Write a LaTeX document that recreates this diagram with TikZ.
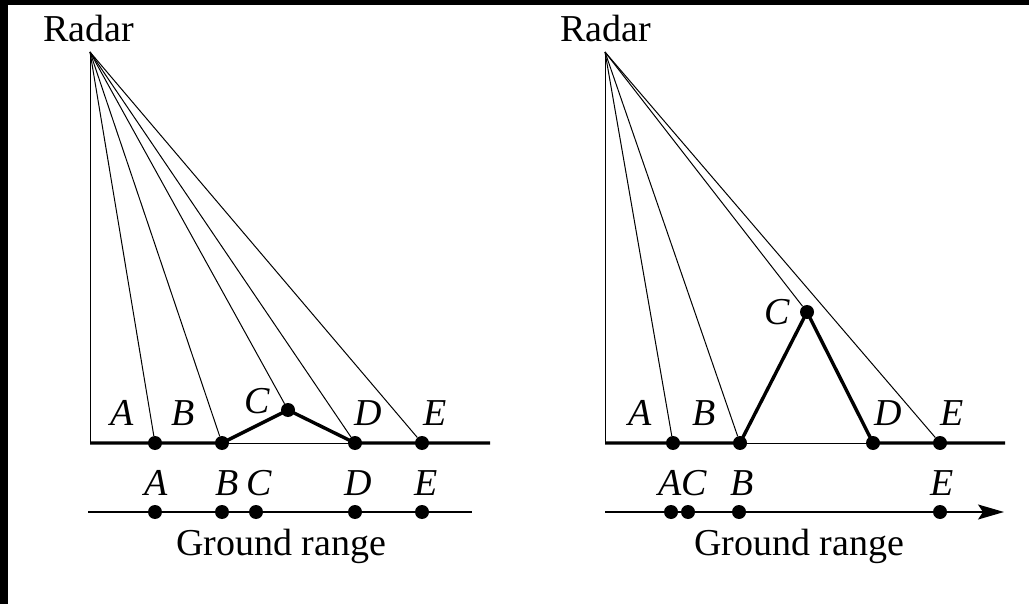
\documentclass[tikz,border=0pt]{standalone}
\usepackage{fontspec}
\setmainfont{Liberation Serif}
\newfontfamily\figfont{Liberation Serif}
\usetikzlibrary{arrows.meta,positioning}

\begin{document}
\begin{tikzpicture}[x=1pt,y=-1pt,
  dot/.style={circle,fill,inner sep=0pt,minimum size=14pt},
  ray/.style={line width=1pt},
  terrain/.style={line width=3.4pt},
  axis/.style={line width=1.6pt},
  lbl/.style={font=\figfont\fontsize{38}{40}\selectfont\itshape,anchor=base,inner sep=0pt},
  txt/.style={font=\figfont\fontsize{38}{40}\selectfont,anchor=base,inner sep=0pt}]
% frame
\fill[black] (0,0) rectangle (1029,604);
\fill[white] (8,5) rectangle (1029,604);

% left: low hill
\coordinate (r1) at (90,52);
\coordinate (o1) at (90,443);
\coordinate (g1) at (490,443);
\node[txt] (radar1) at (89,42) {Radar};
\node[dot] (a1) at (155,443) {};
\node[dot] (b1) at (222,443) {};
\node[dot] (c1) at (288,410) {};
\node[dot] (d1) at (355,443) {};
\node[dot] (e1) at (422,443) {};

\draw[ray] (r1) -- (o1);
\draw[ray] (r1) -- (a1);
\draw[ray] (r1) -- (b1);
\draw[ray] (r1) -- (c1);
\draw[ray] (r1) -- (d1);
\draw[ray] (r1) -- (e1);
\draw[ray] (b1) -- (d1);
\draw[terrain] (o1) -- (b1.center) -- (c1.center) -- (d1.center) -- (g1);

\node[lbl] (la1) at (122,425) {A};
\node[lbl] (lb1) at (183,425) {B};
\node[lbl] (lc1) at (257,413) {C};
\node[lbl] (ld1) at (368,425) {D};
\node[lbl] (le1) at (435,425) {E};

% left: ground range
\coordinate (s1) at (88,512);
\coordinate (t1) at (472,512);
\draw[axis] (s1) -- (t1);
\node[dot] (pa1) at (155,512) {};
\node[dot] (pb1) at (222,512) {};
\node[dot] (pc1) at (256,512) {};
\node[dot] (pd1) at (355,512) {};
\node[dot] (pe1) at (422,512) {};
\node[lbl] at (156,495) {A};
\node[lbl] at (227,495) {B};
\node[lbl] at (259,495) {C};
\node[lbl] at (358,495) {D};
\node[lbl] at (426,495) {E};
\node[txt] (gr1) at (281,555) {Ground range};

% right: high hill
\coordinate (r2) at (605,52);
\coordinate (o2) at (605,443);
\coordinate (g2) at (1005,443);
\node[txt] (radar2) at (606,42) {Radar};
\node[dot] (a2) at (673,443) {};
\node[dot] (b2) at (740,443) {};
\node[dot] (c2) at (807,312) {};
\node[dot] (d2) at (873,443) {};
\node[dot] (e2) at (940,443) {};

\draw[ray] (r2) -- (o2);
\draw[ray] (r2) -- (a2);
\draw[ray] (r2) -- (b2);
\draw[ray] (r2) -- (c2);
\draw[ray] (r2) -- (e2);
\draw[ray] (b2) -- (d2);
\draw[terrain] (o2) -- (b2.center) -- (c2.center) -- (d2.center) -- (g2);

\node[lbl] (la2) at (640,425) {A};
\node[lbl] (lb2) at (704,425) {B};
\node[lbl] (lc2) at (777,325) {C};
\node[lbl] (ld2) at (888,425) {D};
\node[lbl] (le2) at (952,425) {E};

% right: ground range
\coordinate (s2) at (605,512);
\coordinate (t2) at (1004,512);
\draw[axis,-{Stealth[length=26pt,width=15pt,inset=5pt]}] (s2) -- (t2);
\node[dot] (pa2) at (671,512) {};
\node[dot] (pc2) at (688,512) {};
\node[dot] (pb2) at (739,512) {};
\node[dot] (pe2) at (940,512) {};
\node[lbl] at (683,495) {AC};
\node[lbl] at (742,495) {B};
\node[lbl] at (942,495) {E};
\node[txt] (gr2) at (799,555) {Ground range};
\end{tikzpicture}
\end{document}
